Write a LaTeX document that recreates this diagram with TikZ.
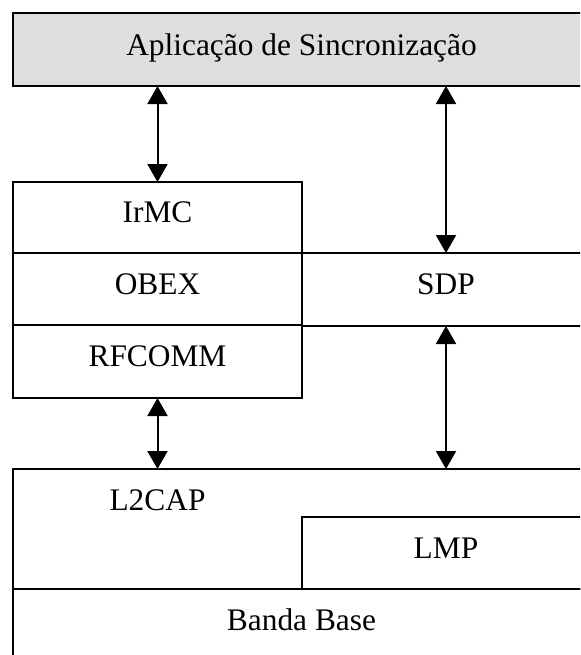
\documentclass[tikz,border=0pt]{standalone}
\usepackage{fontspec}
\setmainfont{Liberation Serif}
\usetikzlibrary{arrows.meta}

\begin{document}
\begin{tikzpicture}[x=0.5pt, y=-0.5pt,
    layer/.style={draw, line width=1pt, anchor=north west, inner sep=0pt, outer sep=0pt,
      text depth=5pt, font=\fontsize{15.7}{19}\selectfont},
    half/.style={layer, minimum width=144.5pt},
    link/.style={<->, line width=1pt, >={Triangle[width=10pt, length=9pt]}}]
    \useasboundingbox (0,0) rectangle (580,655);
    \clip (0,0) rectangle (580,655);
    % application on top
    \node[layer, fill=black!13, minimum width=288.5pt, minimum height=36.5pt]
      (app) at (13,13) {Aplicação de Sincronização};
    % left stack
    \node[half, minimum height=35.5pt] (irmc) at (13,182) {IrMC};
    \node[half, minimum height=36pt] (obex) at (irmc.south west) {OBEX};
    \node[half, minimum height=36.5pt] (rfcomm) at (obex.south west) {RFCOMM};
    \node[half, minimum width=144pt, minimum height=36.5pt] (sdp) at (obex.north east) {SDP};
    % lower layers
    \node[layer, minimum width=288.5pt, minimum height=60pt] (l2cap) at (13,469) {};
    \node[font=\fontsize{15.7}{19}\selectfont, text depth=5pt, inner sep=0pt]
      (l2capname) at (157.5,505) {L2CAP};
    \node[half, minimum width=144pt, minimum height=36pt] (lmp) at (302,517) {LMP};
    \node[layer, minimum width=288.5pt, minimum height=36pt] (banda) at (l2cap.south west) {Banda Base};
    % connections
    \draw[link] (app.south -| irmc.north) -- (irmc.north);
    \draw[link] (app.south -| sdp.north) -- (sdp.north);
    \draw[link] (rfcomm.south) -- (l2cap.north -| rfcomm.south);
    \draw[link] (sdp.south) -- (l2cap.north -| sdp.south);
\end{tikzpicture}
\end{document}
